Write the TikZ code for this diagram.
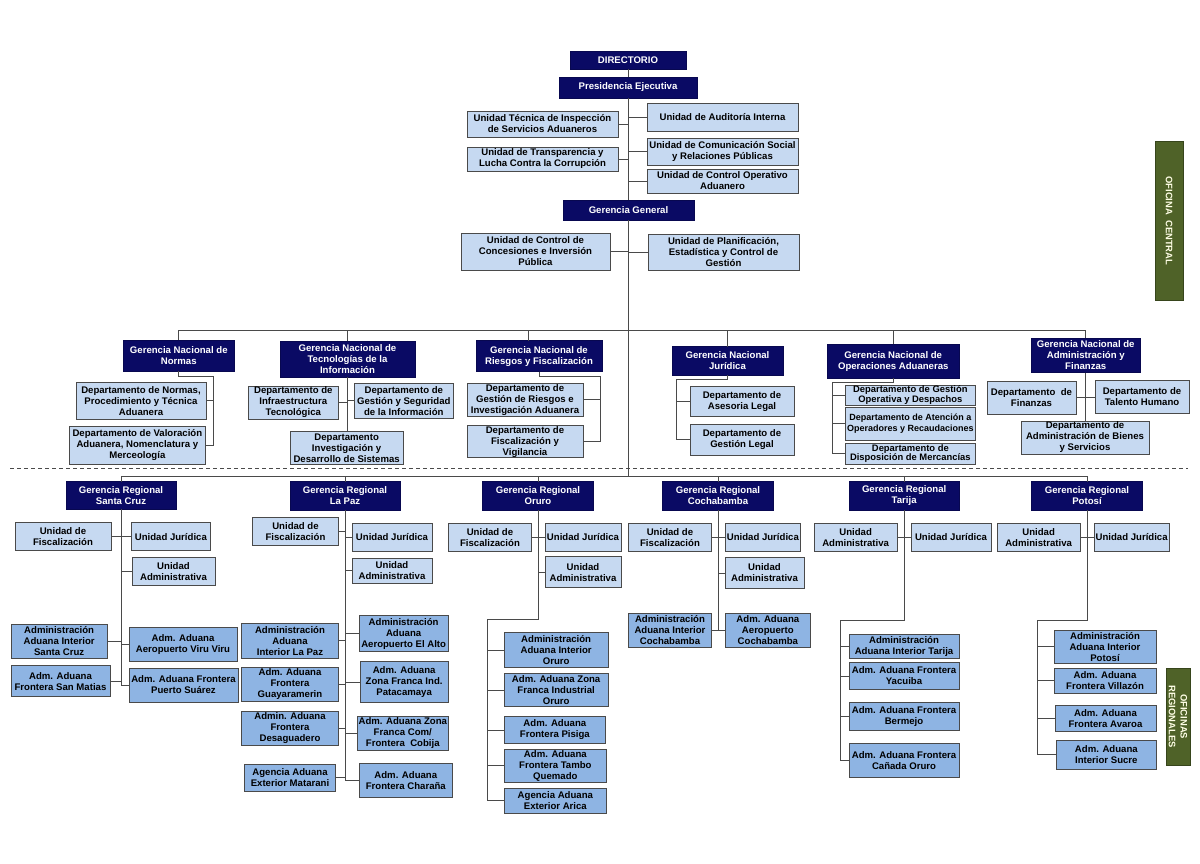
\documentclass[tikz,border=0pt]{standalone}
\usepackage{fontspec}
\setmainfont{Liberation Sans}
\definecolor{navyc}{HTML}{0A0A64}
\definecolor{lightc}{HTML}{C6D9F1}
\definecolor{medc}{HTML}{8EB4E3}
\definecolor{olivec}{HTML}{4F6228}
\definecolor{linec}{HTML}{4A4A4A}
\tikzset{
  box/.style={draw=linec, line width=0.9pt, align=center, inner sep=0.3pt, outer sep=0pt,
    font=\fontsize{9.6}{11}\selectfont\bfseries},
  nv/.style={box, fill=navyc, text=white, draw=navyc!80!black},
  lb/.style={box, fill=lightc},
  md/.style={box, fill=medc},
  ol/.style={fill=olivec, draw=olivec!70!black, line width=0.8pt, text=white!90!yellow, align=center,
    inner sep=0pt, font=\fontsize{9.4}{11.8}\selectfont\bfseries},
  ln/.style={draw=linec, line width=0.9pt},
}
\newcommand\bx[7]{\node[#2, minimum width={(#5-#3)*1pt}, minimum height={(#6-#4)*1pt}] (#1) at ({(#3+#5)/2},{(#4+#6)/2}) {#7};}
\begin{document}
\begin{tikzpicture}[x=1pt,y=-1pt]
\useasboundingbox[fill=white] (0,0) rectangle (1200,863);
% ---------- top ----------
\bx{dir}{nv}{570}{51}{686}{69}{DIRECTORIO}
\bx{pres}{nv}{559}{77}{697}{98}{Presidencia Ejecutiva}
\bx{ut}{lb}{467}{111}{618}{137}{Unidad Técnica de Inspección\\de Servicios Aduaneros}
\bx{ua}{lb}{647}{103}{798}{131}{Unidad de Auditoría Interna}
\bx{utr}{lb}{467}{147}{618}{171}{Unidad de Transparencia y\\Lucha Contra la Corrupción}
\bx{ucs}{lb}{647}{138}{798}{165}{Unidad de Comunicación Social\\y Relaciones Públicas}
\bx{uco}{lb}{647}{169}{798}{193}{Unidad de Control Operativo\\Aduanero}
\bx{gg}{nv}{563}{200}{694}{220}{Gerencia General}
\bx{ucc}{lb}{461}{233}{610}{270}{Unidad de Control de\\Concesiones e Inversión\\Pública}
\bx{upe}{lb}{648}{234}{799}{270}{Unidad de Planificación,\\Estadística y Control de\\Gestión}
% ---------- national ----------
\bx{gnn}{nv}{123.6}{340}{234}{371}{Gerencia Nacional de\\Normas}
\bx{gnt}{nv}{280}{341.3}{415}{377.3}{Gerencia Nacional de\\Tecnologías de la\\Información}
\bx{gnr}{nv}{476}{340.7}{602}{371.7}{Gerencia Nacional de\\Riesgos y Fiscalización}
\bx{gnj}{nv}{672}{346.7}{783}{375}{Gerencia Nacional\\Jurídica}
\bx{gno}{nv}{827.5}{344}{959}{378.3}{Gerencia Nacional de\\Operaciones Aduaneras}
\bx{gna}{nv}{1031}{338}{1140.5}{372.7}{Gerencia Nacional de\\Administración y\\Finanzas}
\bx{dnp}{lb}{76}{382.7}{206}{419}{Departamento de Normas,\\Procedimiento y Técnica\\Aduanera}
\bx{dva}{lb}{69}{426.7}{205.7}{464}{Departamento de Valoración\\Aduanera, Nomenclatura y\\Merceología}
\bx{dit}{lb}{248.3}{386}{338.3}{419}{Departamento de\\Infraestructura\\Tecnológica}
\bx{dgs}{lb}{354.3}{383.3}{453.3}{418.3}{Departamento de\\Gestión y Seguridad\\de la Información}
\bx{did}{lb}{290}{431.7}{403.3}{464.5}{Departamento\\Investigación y\\Desarrollo de Sistemas}
\bx{dgr}{lb}{467}{383}{583}{416.7}{Departamento de\\Gestión de Riesgos e\\Investigación Aduanera}
\bx{dfv}{lb}{467}{425.7}{583}{457.7}{Departamento de\\Fiscalización y\\Vigilancia}
\bx{dal}{lb}{690}{386}{794}{416.7}{Departamento de\\Asesoria Legal}
\bx{dgl}{lb}{690}{424}{794}{455}{Departamento de\\Gestión Legal}
\bx{dgo}{lb, inner sep=0pt, font=\fontsize{9.4}{9.8}\selectfont\bfseries}{845}{385}{975.7}{405}{Departamento de Gestión\\Operativa y Despachos}
\bx{dao}{lb, font=\fontsize{9.0}{11}\selectfont\bfseries}{845}{407.7}{975.7}{440}{Departamento de Atención a\\Operadores y Recaudaciones}
\bx{ddm}{lb, inner sep=0pt, font=\fontsize{9.4}{9.8}\selectfont\bfseries}{845}{443}{975.7}{464.3}{Departamento de\\Disposición de Mercancías}
\bx{dfi}{lb}{987}{381}{1076}{414}{Departamento\ \ de\\Finanzas}
\bx{dth}{lb}{1095}{380}{1189}{413}{Departamento de\\Talento Humano}
\bx{dab}{lb}{1021}{421}{1149}{454}{Departamento de\\Administración de Bienes\\y Servicios}
% ---------- regional heads ----------
\bx{grsc}{nv}{66}{481.7}{176}{509}{Gerencia Regional\\Santa Cruz}
\bx{grlp}{nv}{290}{481.7}{400}{510}{Gerencia Regional\\La Paz}
\bx{gror}{nv}{482.7}{481.7}{593.3}{510}{Gerencia Regional\\Oruro}
\bx{grcb}{nv}{662.7}{481.7}{773.3}{510}{Gerencia Regional\\Cochabamba}
\bx{grta}{nv}{849}{481.7}{959.3}{510}{Gerencia Regional\\Tarija}
\bx{grpo}{nv}{1031.7}{481.7}{1142.3}{510}{Gerencia Regional\\Potosí}
% Santa Cruz
\bx{scf}{lb}{15}{522.7}{111}{550.7}{Unidad de\\Fiscalización}
\bx{scj}{lb}{131}{522.7}{210.7}{550.7}{Unidad Jurídica}
\bx{sca}{lb}{132}{557.7}{215}{585}{Unidad\\Administrativa}
\bx{sc1}{md}{11}{624}{107.3}{658.3}{Administración\\Aduana Interior\\Santa Cruz}
\bx{sc2}{md}{129}{627.3}{237}{661}{Adm. Aduana\\Aeropuerto Viru Viru}
\bx{sc3}{md}{11}{665.7}{110}{696.7}{Adm. Aduana\\Frontera San Matias}
\bx{sc4}{md}{129}{668}{238}{702}{Adm. Aduana Frontera\\Puerto Suárez}
% La Paz
\bx{lpf}{lb}{252.7}{517.7}{338.3}{545.7}{Unidad de\\Fiscalización}
\bx{lpj}{lb}{352}{523}{432}{551.7}{Unidad Jurídica}
\bx{lpa}{lb}{352}{558}{432}{583}{Unidad\\Administrativa}
\bx{lp1}{md}{241.7}{623}{338.3}{658.3}{Administración\\Aduana\\Interior La Paz}
\bx{lp2}{md}{359}{615.7}{448.3}{651.7}{Administración\\Aduana\\Aeropuerto El Alto}
\bx{lp3}{md}{241.7}{667}{338.3}{701.7}{Adm. Aduana\\Frontera\\Guayaramerin}
\bx{lp4}{md}{360}{661.7}{448.3}{702.7}{Adm. Aduana\\Zona Franca Ind.\\Patacamaya}
\bx{lp5}{md}{241.7}{711}{338.3}{745.7}{Admin. Aduana\\Frontera\\Desaguadero}
\bx{lp6}{md}{357.3}{716.7}{448.3}{750}{Adm. Aduana Zona\\Franca Com/\\Frontera\ \ Cobija}
\bx{lp7}{md}{244.3}{764}{335.7}{791}{Agencia Aduana\\Exterior Matarani}
\bx{lp8}{md}{359.3}{763.7}{452.3}{797.7}{Adm. Aduana\\Frontera Charaña}
% Oruro
\bx{orf}{lb}{448.3}{523.3}{531.7}{551}{Unidad de\\Fiscalización}
\bx{orj}{lb}{545}{523.3}{621}{551}{Unidad Jurídica}
\bx{ora}{lb}{545}{556.7}{621}{587.7}{Unidad\\Administrativa}
\bx{or1}{md}{504}{632.7}{608.3}{667.7}{Administración\\Aduana Interior\\Oruro}
\bx{or2}{md}{504}{673.3}{608.3}{706.7}{Adm. Aduana Zona\\Franca Industrial\\Oruro}
\bx{or3}{md}{504}{716.7}{605.7}{743.3}{Adm. Aduana\\Frontera Pisiga}
\bx{or4}{md}{504}{749.3}{606.7}{782.3}{Adm. Aduana\\Frontera Tambo\\Quemado}
\bx{or5}{md}{504}{788.3}{606.7}{813.3}{Agencia Aduana\\Exterior Arica}
% Cochabamba
\bx{cbf}{lb}{628.3}{523.3}{711.7}{551}{Unidad de\\Fiscalización}
\bx{cbj}{lb}{725}{523.3}{800.7}{551}{Unidad Jurídica}
\bx{cba}{lb}{725}{557.7}{804}{588.3}{Unidad\\Administrativa}
\bx{cb1}{md}{628.3}{613.3}{711.7}{647.7}{Administración\\Aduana Interior\\Cochabamba}
\bx{cb2}{md}{725}{613.3}{810.7}{647.7}{Adm. Aduana\\Aeropuerto\\Cochabamba}
% Tarija
\bx{taa}{lb}{814}{523.3}{897.3}{551}{Unidad\\Administrativa}
\bx{taj}{lb}{911}{523.3}{991}{551}{Unidad Jurídica}
\bx{ta1}{md}{849}{634.3}{959}{658.3}{Administración\\Aduana Interior Tarija}
\bx{ta2}{md}{849}{662.7}{959}{689.3}{Adm. Aduana Frontera\\Yacuiba}
\bx{ta3}{md}{849}{702.7}{959}{730.7}{Adm. Aduana Frontera\\Bermejo}
\bx{ta4}{md}{849}{743.3}{959}{777.3}{Adm. Aduana Frontera\\Cañada Oruro}
% Potosi
\bx{poa}{lb}{997.3}{523.3}{1080}{551}{Unidad\\Administrativa}
\bx{poj}{lb}{1094}{523.3}{1169.3}{551}{Unidad Jurídica}
\bx{po1}{md}{1054}{630}{1156}{663.3}{Administración\\Aduana Interior\\Potosí}
\bx{po2}{md}{1054}{668.3}{1156}{693.3}{Adm. Aduana\\Frontera Villazón}
\bx{po3}{md}{1055}{705}{1156}{731.7}{Adm. Aduana\\Frontera Avaroa}
\bx{po4}{md}{1056.7}{740}{1156}{769}{Adm. Aduana\\Interior Sucre}
% side labels
\node[ol, rotate=-90, minimum width=158.3pt, minimum height=28.3pt] (ofc) at (1169.2,220.9) {OFICINA\ \ CENTRAL};
\node[ol, rotate=-90, minimum width=96.7pt, minimum height=24pt] (ofr) at (1178,716.6) {OFICINAS\\REGIONALES};
% ---------- connectors ----------
\coordinate (nbus) at (629,330.7);
\coordinate (rbus) at (629,476.7);
\coordinate (nrd) at (528.6,330.7);
\draw[ln] (dir.south) -- (dir.south |- pres.north);
\draw[ln] (pres.south) -- (pres.south |- gg.north);
\draw[ln] (gg.south) -- (gg.south |- rbus);
\foreach \n in {ut,utr,ucc} \draw[ln] (\n.east) -- (\n.east -| gg.south);
\foreach \n in {ua,ucs,uco,upe} \draw[ln] (\n.west) -- (\n.west -| gg.south);
% national bus
\draw[ln] (gnn.north) -- (gnn.north |- nbus) -- (gna.north |- nbus) -- (gna.north);
\foreach \n in {gnt,gnj,gno} \draw[ln] (\n.north) -- (\n.north |- nbus);
\draw[ln] (nrd) -- (nrd |- gnr.north);
% Normas
\coordinate (nnk) at (213.6,376);
\draw[ln] (gnn.south) |- (nnk) -- (nnk |- dva.east) -- (dva.east);
\draw[ln] (dnp.east) -- (dnp.east -| nnk);
% Tecnologias
\draw[ln] (gnt.south) -- (gnt.south |- did.north);
\draw[ln] (dit.east) -- (dit.east -| gnt.south);
\draw[ln] (dgs.west) -- (dgs.west -| gnt.south);
% Riesgos
\coordinate (nrk) at (600,376.7);
\draw[ln] (gnr.south) |- (nrk) -- (nrk |- dfv.east) -- (dfv.east);
\draw[ln] (dgr.east) -- (dgr.east -| nrk);
% Juridica
\coordinate (njk) at (676.6,379);
\draw[ln] (gnj.south) |- (njk) -- (njk |- dgl.west) -- (dgl.west);
\draw[ln] (dal.west) -- (dal.west -| njk);
% Operaciones
\coordinate (nok) at (832,382.7);
\draw[ln] (gno.south) |- (nok) -- (nok |- ddm.west) -- (ddm.west);
\foreach \n in {dgo,dao} \draw[ln] (\n.west) -- (\n.west -| nok);
% Administracion y Finanzas
\draw[ln] (gna.south) -- (gna.south |- dab.north);
\draw[ln] (dfi.east) -- (dfi.east -| dth.west);
% dashed separator
\draw[linec, line width=0.9pt, dash pattern=on 4pt off 3pt] (10,468) -- (1188,468);
% regional bus
\draw[ln] (grsc.north) -- (grsc.north |- rbus) -- (grpo.north |- rbus) -- (grpo.north);
\foreach \n in {grlp,gror,grcb,grta} \draw[ln] (\n.north) -- (\n.north |- rbus);
% Santa Cruz
\draw[ln] (grsc.south) -- (grsc.south |- sc4.west);
\foreach \n in {scf,sc1,sc3} \draw[ln] (\n.east) -- (\n.east -| grsc.south);
\foreach \n in {scj,sca,sc2,sc4} \draw[ln] (\n.west) -- (\n.west -| grsc.south);
% La Paz
\draw[ln] (grlp.south) -- (grlp.south |- lp8.west);
\foreach \n in {lpf,lp1,lp3,lp5,lp7} \draw[ln] (\n.east) -- (\n.east -| grlp.south);
\foreach \n in {lpj,lpa,lp2,lp4,lp6,lp8} \draw[ln] (\n.west) -- (\n.west -| grlp.south);
% Oruro
\coordinate (ork) at (487.7,619.3);
\draw[ln] (gror.south) |- (ork) -- (ork |- or5.west) -- (or5.west);
\draw[ln] (orf.east) -- (orf.east -| gror.south);
\foreach \n in {orj,ora} \draw[ln] (\n.west) -- (\n.west -| gror.south);
\foreach \n in {or1,or2,or3,or4} \draw[ln] (\n.west) -- (\n.west -| ork);
% Cochabamba
\draw[ln] (grcb.south) -- (grcb.south |- cb1.east);
\foreach \n in {cbf,cb1} \draw[ln] (\n.east) -- (\n.east -| grcb.south);
\foreach \n in {cbj,cba,cb2} \draw[ln] (\n.west) -- (\n.west -| grcb.south);
% Tarija
\coordinate (tak) at (840.7,620);
\draw[ln] (grta.south) |- (tak) -- (tak |- ta4.west) -- (ta4.west);
\draw[ln] (taa.east) -- (taa.east -| grta.south);
\draw[ln] (taj.west) -- (taj.west -| grta.south);
\foreach \n in {ta1,ta2,ta3} \draw[ln] (\n.west) -- (\n.west -| tak);
% Potosi
\coordinate (pok) at (1037.3,620);
\draw[ln] (grpo.south) |- (pok) -- (pok |- po4.west) -- (po4.west);
\draw[ln] (poa.east) -- (poa.east -| grpo.south);
\draw[ln] (poj.west) -- (poj.west -| grpo.south);
\foreach \n in {po1,po2,po3} \draw[ln] (\n.west) -- (\n.west -| pok);
\end{tikzpicture}
\end{document}
